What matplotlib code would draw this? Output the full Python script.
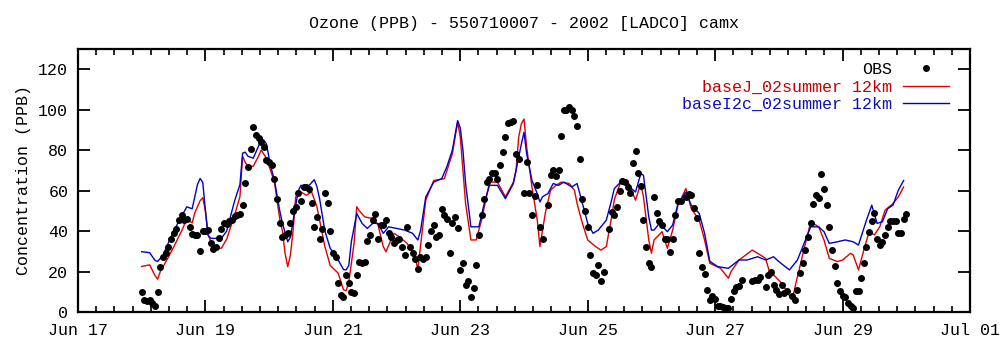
import numpy as np
import pandas as pd
import matplotlib
matplotlib.use("Agg")
import matplotlib.pyplot as plt

# ---------------- data (hours since 2002-06-18 00:00) ----------------
obs_hours = [0, 1, 2, 3, 4, 5, 6, 7, 8, 9, 10, 11, 12, 13, 14, 15, 16, 17, 18, 19,
             20, 21, 22, 23, 24, 25, 26, 27, 28, 29, 30, 31, 32, 33, 34, 35, 36, 37, 38, 39,
             40, 41, 42, 43, 44, 45, 46, 47, 48, 49, 50, 51, 52, 53, 54, 55, 56, 57, 58, 59,
             60, 61, 62, 63, 64, 65, 66, 67, 68, 69, 70, 71, 72, 73, 74, 75, 76, 77, 78, 79,
             80, 81, 82, 83, 84, 85, 86, 87, 88, 89, 90, 91, 92, 93, 94, 95, 96, 97, 98, 99,
             100, 101, 102, 103, 104, 105, 106, 107, 108, 109, 110, 111, 112, 113, 114, 115, 116, 117, 118, 119,
             120, 121, 122, 123, 124, 125, 126, 127, 128, 129, 130, 131, 132, 133, 134, 135, 136, 137, 138, 139,
             140, 141, 142, 144, 145, 146, 147, 148, 149, 150, 151, 153, 154, 155, 156, 157, 158, 159,
             160, 161, 162, 163, 164, 165, 166, 167, 168, 169, 170, 171, 172, 173, 174, 176, 177, 178, 179,
             180, 181, 182, 183, 184, 185, 186, 187, 188, 189, 190, 191, 192, 193, 194, 195, 196, 197, 198, 199,
             200, 201, 202, 203, 205, 206, 207, 208, 209, 210, 211, 212, 213, 214, 215, 216, 217, 218, 219,
             220, 221, 222, 223, 224, 225, 226, 230, 231, 232, 233, 235, 236, 237, 238, 239,
             240, 241, 242, 243, 245, 246, 247, 248, 249, 250, 251, 252, 253, 254, 255, 256, 257, 258, 259,
             260, 261, 262, 263, 264, 265, 266, 267, 268, 269, 270, 271, 272, 273, 274, 275, 276, 277, 278, 279,
             280, 281, 282, 283, 284, 285, 286, 287, 288]
obs_values = [10, 6, 5.5, 6, 4.4, 3.1, 10, 22, 27, 29, 32, 36, 39, 41, 45.7, 48, 45.5, 46, 42, 38.5,
              38, 38, 30.2, 40, 40, 40.5, 34, 31, 32, 36.5, 41, 44, 43.5, 45, 45.4, 47.5, 47.8, 48.5, 52.8, 63.7,
              71.6, 80.7, 91.6, 87.7, 86, 83.9, 81.8, 74.9, 74.1, 72.9, 65.9, 55.7, 43.8, 36.9, 38, 38.9, 43.8, 49.8, 51.9, 59,
              55, 62, 62, 61, 54, 42, 47, 36, 41, 59, 54, 40, 29, 27.3, 14.3, 8.5, 7.4, 18.3, 14.3, 10.1,
              9.3, 18.3, 24.9, 24.1, 24.9, 35, 38, 45.4, 48.2, 35.9, 42.9, 42.9, 45.4, 39.2, 37.2, 33.9, 35.6, 36.3, 32.3, 28.2,
              42, 32.3, 29, 26, 21.1, 27, 26, 27.3, 33.1, 40, 42.9, 37.2, 38, 51.1, 47.9, 46.2, 29, 43.8, 47, 41.3,
              20.8, 24.1, 13.4, 15.1, 7.4, 11.8, 23.3, 38, 47.9, 55.7, 64.2, 65.9, 68.7, 68.7, 65.9, 72.9, 79, 86.7, 93.3, 93.8,
              94.5, 78.2, 75.7, 59, 74.1, 59, 47.9, 57.2, 63, 42.1, 36.1, 52.8, 67.5, 70, 67, 70, 86.9, 99.8,
              99.8, 101.1, 99.8, 97, 91.8, 75.7, 56, 50, 42.1, 28.2, 19.2, 18.1, 23.3, 15.1, 20, 41, 49.5, 47.9, 51.7,
              59.8, 64.8, 64.3, 61.8, 58.8, 73.6, 79.8, 68.7, 62.1, 45.7, 31.9, 24, 22, 56.9, 49.1, 45.1, 43, 36, 36, 29.8,
              36, 48, 55, 55, 56.9, 58.2, 57.7, 51.2, 46.7, 29, 22, 18.8, 11, 6, 7.7, 6.4, 3.1, 2.8, 2.4,
              2, 2, 6.4, 10.2, 12.3, 13, 15.9, 15.1, 15.9, 15.9, 17.5, 12.3, 18.4, 20, 13.4, 10.7,
              9, 13.4, 9.3, 10.2, 7.7, 6, 11, 19.2, 24.1, 30.4, 37, 44.1, 53.3, 57.7, 56.1, 68, 61, 53.1, 42.1,
              30.4, 22.8, 14.2, 10.2, 7.7, 7.4, 4.4, 3.1, 2, 10.2, 10.2, 16.7, 24.1, 32, 39.7, 44.9, 49, 35.9, 33.1, 34.7,
              38, 42.1, 45.1, 45.1, 45.1, 39.2, 39.2, 46.2, 48.4]

baseJ_hours = [0, 3, 5, 6, 7, 10, 12, 15, 17, 18, 19, 20, 22, 23, 24, 25, 27, 30, 32, 35, 37,
               38, 39, 40, 42, 44, 45, 47, 48, 50, 52, 53, 54, 55, 56, 57, 58, 60, 62, 64, 66, 69, 71,
               74, 76, 77, 78, 80, 81, 82, 84, 87, 89, 91, 92, 95, 97, 100, 103, 104, 105, 107, 110,
               114, 117, 119, 120, 122, 124, 126, 128, 131, 134, 137, 140, 141, 142, 143, 144, 145, 147,
               149, 150, 152, 154, 156, 158, 161, 163, 164, 166, 168, 171, 173, 175, 177, 178, 179, 181,
               183, 186, 188, 189, 191, 192, 193, 196, 198, 200, 202, 205, 207, 210, 212, 214, 218, 221,
               222, 225, 230, 233, 235, 237, 238, 241, 243, 245, 247, 250, 252, 255, 257, 259, 262, 264,
               267, 268, 270, 272, 274, 276, 278, 280, 283, 285, 287]
baseJ_values = [22.5, 23.3, 18, 16.2, 20, 27, 32, 40, 46, 45, 44, 49, 55, 56.5, 50, 38, 32, 31.5, 36, 48, 57,
                77, 74, 72, 72, 77, 80, 76, 72, 64.2, 46, 40, 29, 22.4, 28, 40, 56.9, 59.3, 57.7, 59.3, 52, 32.3, 23,
                19.2, 11, 10.5, 14.7, 34, 52, 50, 47, 46.2, 43, 32.3, 29.8, 38.9, 37.2, 33.9, 27.3, 21, 32.3, 55.3, 65,
                65.9, 78.2, 93.8, 86.4, 53.6, 35.6, 35.6, 45.4, 64.2, 64.2, 56.9, 64.2, 70, 86.4, 93, 95.4, 81.5, 61.8,
                45.4, 32.3, 48.7, 60.2, 62.6, 64.2, 63.5, 60.2, 53.6, 43.8, 35.6, 32.3, 30.6, 32.3, 47, 55.3, 59.3, 65.9,
                65, 55.3, 63.5, 56.9, 35.6, 29, 35.6, 39.7, 31.5, 40.5, 52.8, 61, 51.1, 45.4, 35.6, 24.1, 21.6, 16.7,
                20, 25.7, 30.6, 28.2, 26.5, 17.5, 18.4, 14.3, 10.2, 6, 17.5, 33.9, 44.6, 42.1, 35.6, 26.5, 24.9, 25.7,
                29, 28.2, 20.8, 30.6, 39.7, 38.1, 42.1, 50.3, 53.6, 56.9, 61.8]

baseI2c_hours = [0, 3, 5, 6, 8, 11, 14, 17, 18, 19, 21, 22, 23, 24, 25, 26, 30, 32, 35, 37,
                 38, 39, 40, 42, 44, 45, 46, 47, 48, 49, 50, 52, 53, 55, 56, 57, 59, 60, 62, 63, 65, 66, 67, 69, 71,
                 74, 76, 77, 78, 79, 81, 83, 85, 87, 89, 91, 93, 96, 99, 102, 104, 105, 107, 110, 113,
                 115, 117, 119, 120, 121, 122, 124, 127, 129, 131, 134, 137, 140, 142, 143, 144, 145, 147,
                 149, 150, 151, 153, 155, 157, 159, 162, 164, 166, 168, 170, 172, 175, 177, 178, 181, 183,
                 186, 188, 189, 191, 192, 193, 195, 198, 200, 202, 205, 207, 210, 212, 214, 217, 221, 225,
                 228, 232, 235, 238, 240, 244, 247, 250, 252, 255, 257, 259, 262, 265, 268, 270, 273, 275,
                 277, 279, 281, 283, 285, 287]
baseI2c_values = [29.8, 29.3, 25.5, 25, 28, 37, 45, 52, 51.5, 51, 63, 66, 64, 50, 38, 36.4, 36.4, 40, 55, 63,
                  78.5, 79, 77, 76, 82, 85, 85, 83, 76, 70, 65, 50, 43.9, 34.7, 37, 45, 60, 62.6, 62, 62.5, 65.4, 62, 56, 40, 31.5,
                  25.7, 21, 20.8, 23, 35, 48.7, 43.8, 41.3, 43.8, 43.8, 38.9, 42.1, 41.3, 40.5, 38.9, 35.6, 40, 56.9, 64.2, 65.9,
                  72, 80, 94.6, 91, 80, 63.5, 42.1, 42.1, 53.6, 62.6, 62.6, 56, 63.5, 76.5, 83, 88.8, 78.2, 65,
                  58.5, 54.4, 57, 58.5, 63.5, 62.6, 64.2, 61.8, 63.5, 53.6, 43.8, 38.9, 40.5, 45.4, 55.3, 61, 65, 62.6,
                  59.3, 68.4, 67.6, 47, 40.5, 40.5, 43.8, 39.7, 43, 53.6, 59.3, 52.8, 48.7, 39, 25, 22.4, 21.6, 25.7,
                  25.7, 27.3, 25.7, 27.3, 24.9, 20.8, 25.7, 35.6, 42.1, 42.1, 39.7, 33.9, 34.7, 35.6, 34.7, 33.1, 45.4, 52.8,
                  43.8, 44.6, 51.1, 52.8, 60.2, 65]

start_date = "2002-06-18"
xaxis_start = "2002-06-17"
xaxis_end = "2002-07-01"
tick_labels = ["Jun 17", "Jun 19", "Jun 21", "Jun 23", "Jun 25", "Jun 27", "Jun 29", "Jul 01"]
yticks = [0, 20, 40, 60, 80, 100, 120]

title = "Ozone (PPB) - 550710007 - 2002 [LADCO] camx"
ylabel = "Concentration (PPB)"
label_obs = "OBS"
label_j = "baseJ_02summer 12km"
label_i = "baseI2c_02summer 12km"

# ---------------- plot ----------------
plt.rcParams['font.family'] = ['Liberation Mono', 'DejaVu Sans Mono']
plt.rcParams['font.size'] = 12

RED = "#e00000"
BLUE = "#0000c8"

t0 = pd.Timestamp(start_date)
def to_time(hours):
    return t0 + pd.to_timedelta(np.asarray(hours, dtype=float), unit="h")

fig = plt.figure(figsize=(10, 3.47), dpi=100)
ax = fig.add_axes([0.078, 0.1009, 0.892, 0.7579])

ax.plot(to_time(obs_hours), obs_values, linestyle="none", marker="o",
        markersize=4.0, color="black", label=label_obs, zorder=3)
ax.plot(to_time(baseJ_hours), baseJ_values, color=RED, lw=1.0, label=label_j, zorder=2)
ax.plot(to_time(baseI2c_hours), baseI2c_values, color=BLUE, lw=1.0, label=label_i, zorder=2)

xs = pd.Timestamp(xaxis_start)
xe = pd.Timestamp(xaxis_end)
ax.set_xlim(xs, xe)
ax.set_ylim(0, 130)

major = pd.date_range(xs, xe, periods=len(tick_labels))
ax.set_xticks(major)
ax.set_xticklabels(tick_labels)
minor = pd.date_range(xs, xe, periods=7 * (len(tick_labels) - 1) + 1)
ax.set_xticks(minor, minor=True)
ax.set_yticks(yticks)
ax.set_yticklabels([str(v) for v in yticks])

ax.tick_params(axis="both", which="major", direction="in", length=8.5, width=1.3,
               top=True, right=True, labelsize=12)
ax.tick_params(axis="x", which="major", pad=8)
ax.tick_params(axis="y", which="major", pad=7)
ax.tick_params(axis="x", which="minor", direction="in", length=4.3, width=1.2, top=True)
for sp in ax.spines.values():
    sp.set_linewidth(1.6)

ax.set_title(title, fontsize=12, pad=15)
ax.set_ylabel(ylabel, fontsize=12, labelpad=5)

leg = ax.legend(loc="upper right", bbox_to_anchor=(0.9765, 0.95), frameon=False,
                markerfirst=False, numpoints=1, handlelength=2.76, handletextpad=0.68,
                labelspacing=0.15, borderaxespad=0, borderpad=0,
                labelcolor=["black", "#c80000", "#1010b8"], fontsize=12)

fig.savefig("out.png", dpi=100)
